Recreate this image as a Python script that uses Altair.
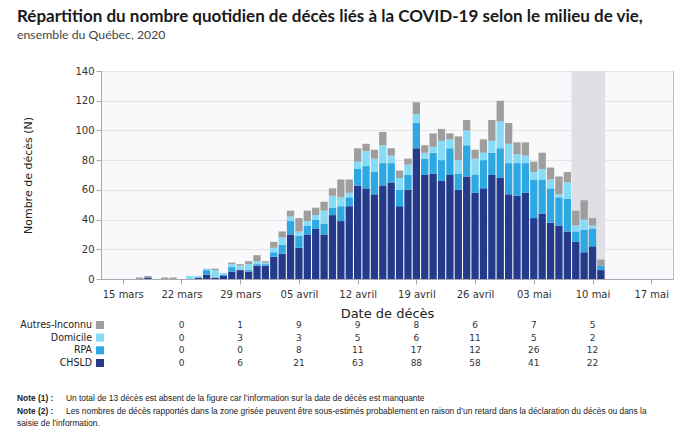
import altair as alt
import pandas as pd

# ---------------- data ----------------
dates = [
    "2020-03-17", "2020-03-18", "2020-03-19", "2020-03-20", "2020-03-21", "2020-03-22",
    "2020-03-23", "2020-03-24", "2020-03-25", "2020-03-26", "2020-03-27", "2020-03-28",
    "2020-03-29", "2020-03-30", "2020-03-31", "2020-04-01", "2020-04-02", "2020-04-03",
    "2020-04-04", "2020-04-05", "2020-04-06", "2020-04-07", "2020-04-08", "2020-04-09",
    "2020-04-10", "2020-04-11", "2020-04-12", "2020-04-13", "2020-04-14", "2020-04-15",
    "2020-04-16", "2020-04-17", "2020-04-18", "2020-04-19", "2020-04-20", "2020-04-21",
    "2020-04-22", "2020-04-23", "2020-04-24", "2020-04-25", "2020-04-26", "2020-04-27",
    "2020-04-28", "2020-04-29", "2020-04-30", "2020-05-01", "2020-05-02", "2020-05-03",
    "2020-05-04", "2020-05-05", "2020-05-06", "2020-05-07", "2020-05-08", "2020-05-09",
    "2020-05-10", "2020-05-11",
]
chsld = [0, 1, 0, 0, 0, 0, 0, 1, 3, 1, 2, 5, 6, 5, 9, 9, 15, 17, 30, 21, 30, 34, 30, 43,
         39, 49, 63, 61, 57, 63, 65, 49, 60, 88, 70, 71, 66, 70, 60, 69, 58, 61, 70, 68,
         57, 56, 58, 41, 44, 38, 36, 32, 25, 18, 22, 6]
rpa = [0, 0, 0, 0, 0, 0, 0, 0, 3, 0, 1, 3, 0, 1, 1, 1, 3, 6, 9, 8, 6, 6, 7, 5,
       10, 6, 11, 15, 15, 15, 13, 11, 10, 17, 11, 14, 14, 18, 11, 21, 12, 19, 15, 20,
       21, 22, 20, 26, 23, 23, 19, 22, 7, 15, 12, 3]
domicile = [0, 0, 0, 0, 0, 0, 2, 1, 1, 5, 1, 2, 3, 4, 2, 1, 3, 5, 3, 3, 3, 3, 9, 8,
            6, 3, 5, 10, 9, 12, 5, 8, 7, 6, 4, 4, 13, 6, 9, 10, 11, 5, 8, 18,
            13, 6, 5, 5, 7, 6, 2, 11, 4, 7, 2, 0]
autres = [1, 1, 0, 1, 1, 0, 0, 0, 0, 1, 0, 1, 1, 2, 4, 1, 4, 4, 4, 9, 7, 5, 6, 5,
          12, 9, 9, 5, 6, 9, 5, 5, 4, 8, 5, 9, 8, 4, 16, 7, 6, 9, 14, 14,
          14, 8, 9, 7, 11, 8, 12, 7, 10, 13, 5, 4]

categories = ["CHSLD", "RPA", "Domicile", "Autres-Inconnu"]
colors = ["#243b8c", "#2ea8e3", "#86dcf6", "#9e9e9e"]
row_order = ["Autres-Inconnu", "Domicile", "RPA", "CHSLD"]

table_dates = ["2020-03-22", "2020-03-29", "2020-04-05", "2020-04-12",
               "2020-04-19", "2020-04-26", "2020-05-03", "2020-05-10"]
tab_autres = [0, 1, 9, 9, 8, 6, 7, 5]
tab_domicile = [0, 3, 3, 5, 6, 11, 5, 2]
tab_rpa = [0, 0, 8, 11, 17, 12, 26, 12]
tab_chsld = [0, 6, 21, 63, 88, 58, 41, 22]

shade_start = ["2020-05-07T12:00:00Z"]
shade_end = ["2020-05-11T12:00:00Z"]

title = "Répartition du nombre quotidien de décès liés à la COVID-19 selon le milieu de vie,"
subtitle = "ensemble du Québec, 2020"
note1_b, note1 = "Note (1) :", "Un total de 13 décès est absent de la figure car l’information sur la date de décès est manquante"
note2_b, note2 = "Note (2) :", "Les nombres de décès rapportés dans la zone grisée peuvent être sous-estimés probablement en raison d’un retard dans la déclaration du décès ou dans la"
note3 = "saisie de l’information."

# ---------------- tables ----------------
series = {"CHSLD": chsld, "RPA": rpa, "Domicile": domicile, "Autres-Inconnu": autres}
rows = []
for ci, c in enumerate(categories):
    for d, v in zip(dates, series[c]):
        rows.append({"date": d, "cat": c, "value": v, "ord": ci})
bars_df = pd.DataFrame(rows)

tab_series = {"Autres-Inconnu": tab_autres, "Domicile": tab_domicile, "RPA": tab_rpa, "CHSLD": tab_chsld}
trows = []
for c in row_order:
    for d, v in zip(table_dates, tab_series[c]):
        trows.append({"date": d, "row": c, "value": v})
table_df = pd.DataFrame(trows)
labels_df = pd.DataFrame({"row": row_order})
shade_df = pd.DataFrame({"start": shade_start, "end": shade_end})

W, H = 572, 208
AX_FONT = "DejaVu Sans"

tick_vals = [alt.DateTime(year=2020, month=m, date=d, utc=True) for m, d in
             [(3, 15), (3, 22), (3, 29), (4, 5), (4, 12), (4, 19), (4, 26), (5, 3), (5, 10), (5, 17)]]
xscale = alt.Scale(type="utc", domain=[alt.DateTime(year=2020, month=3, date=13, utc=True),
                                       alt.DateTime(year=2020, month=5, date=19, utc=True)])
xaxis = alt.Axis(
    values=tick_vals,
    labelExpr="utcFormat(datum.value, '%d') + ' ' + (utcmonth(datum.value) == 2 ? 'mars' : (utcmonth(datum.value) == 3 ? 'avril' : 'mai'))",
    title="Date de décès", titleFont=AX_FONT, titleFontSize=13, titleFontWeight="normal",
    titleColor="#222", titleX=W / 2, titleY=34, titleBaseline="middle",
    labelFont=AX_FONT, labelFontSize=10, labelColor="#333", labelPadding=5,
    tickSize=5, tickColor="#a9a9b3", domainColor="#a9a9b3", grid=False,
)

def X(field):
    return alt.X(field, type="temporal", scale=xscale, axis=xaxis)

shade = alt.Chart(shade_df).mark_rect(color="#dfdfe5").encode(
    x=X("start"), x2="end:T", y=alt.value(0), y2=alt.value(H)
)

bars = alt.Chart(bars_df).mark_bar(width=7.3).encode(
    x=X("date"),
    y=alt.Y("value:Q", stack="zero", scale=alt.Scale(domain=[0, 140]),
            axis=alt.Axis(values=list(range(0, 141, 20)), title="Nombre de décès (N)",
                          titleFont=AX_FONT, titleFontSize=11, titleFontWeight="normal",
                          titleColor="#222", titleX=-73, titleY=H / 2, titleAngle=-90,
                          titleAlign="center", titleBaseline="middle",
                          labelFont=AX_FONT, labelFontSize=10, labelColor="#333",
                          labelPadding=2, tickSize=5, tickColor="#a9a9b3",
                          domainColor="#a9a9b3", gridColor="#e4e4ea")),
    color=alt.Color("cat:N", scale=alt.Scale(domain=categories, range=colors), legend=None),
    order=alt.Order("ord:Q"),
)

rowscale = alt.Scale(type="point", domain=row_order, range=[254, 292], padding=0)

table_text = alt.Chart(table_df).mark_text(font=AX_FONT, fontSize=9, color="#333", baseline="middle").encode(
    x=X("date"),
    y=alt.Y("row:N", scale=rowscale, axis=None),
    text="value:Q",
)

row_labels = alt.Chart(labels_df).mark_text(font="DejaVu Sans Condensed", fontSize=10.5, color="#222",
                                            align="right", baseline="middle").encode(
    x=alt.value(-9), y=alt.Y("row:N", scale=rowscale, axis=None), text="row:N"
)
row_squares = alt.Chart(labels_df).mark_square(size=64, opacity=1).encode(
    x=alt.value(-1), y=alt.Y("row:N", scale=rowscale, axis=None),
    color=alt.Color("row:N", scale=alt.Scale(domain=categories, range=colors), legend=None),
)

def txt(s, x, y, size, weight="normal", font="Lato", color="#222"):
    return alt.Chart(pd.DataFrame({"t": [s]})).mark_text(
        font=font, fontSize=size, fontWeight=weight, color=color, align="left", baseline="alphabetic"
    ).encode(text="t:N", x=alt.value(x), y=alt.value(y))

LX = -84
NF = 8.4
texts = [
    txt(title, LX, 22 - 71, 17, "bold", color="#1a1a1a"),
    txt(subtitle, LX, 39 - 71, 12.3, color="#444"),
    txt(note1_b, LX, 401 - 71, NF, "bold", "Liberation Sans"),
    txt(note1, LX + 49, 401 - 71, NF, font="Liberation Sans"),
    txt(note2_b, LX, 414 - 71, NF, "bold", "Liberation Sans"),
    txt(note2, LX + 49, 414 - 71, NF, font="Liberation Sans"),
    txt(note3, LX, 426 - 71, NF, font="Liberation Sans"),
]

chart = alt.layer(shade, bars, table_text, row_labels, row_squares, *texts).resolve_scale(
    y="independent"
).properties(
    width=W, height=H,
    autosize=alt.AutoSizeParams(type="none"),
    padding={"left": 101, "top": 71, "right": 7, "bottom": 150},
    background="white",
).configure_view(fill="#f9f9fb", stroke="#b9b9c2", strokeWidth=1)

chart.save("out.html", embed_options={"renderer": "svg", "actions": False})
